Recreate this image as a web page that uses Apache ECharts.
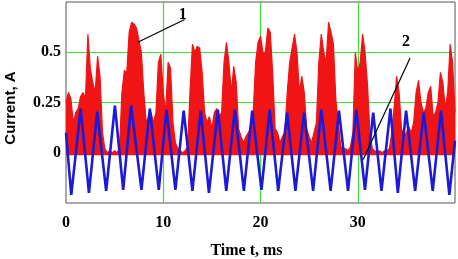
<!DOCTYPE html>
<html>
<head>
<meta charset="utf-8">
<script src="https://cdn.jsdelivr.net/npm/echarts@6/dist/echarts.min.js"></script>
<style>
html, body { margin: 0; padding: 0; background: #fff; }
#chart-box { width: 458px; height: 259px; }
</style>
</head>
<body>
<div id="chart-box"></div>
<script>
// curve 1 (red): upper edge of the current trace, one reading every 0.25 ms from 0 to 40 ms
let redStep = 0.25
let redValues = [
	0.25, 0.30, 0.27, 0.15, 0.20, 0.22, 0.28, 0.30, 0.27, 0.59,
	0.42, 0.35, 0.30, 0.48, 0.38, 0.10, 0.02, 0.00, 0.01, 0.00,
	0.01, 0.00, 0.02, 0.30, 0.41, 0.40, 0.60, 0.65, 0.64, 0.62,
	0.56, 0.50, 0.30, 0.15, 0.18, 0.20, 0.15, 0.20, 0.45, 0.49,
	0.30, 0.20, 0.45, 0.42, 0.15, 0.05, 0.02, 0.01, 0.00, 0.01,
	0.03, 0.30, 0.54, 0.50, 0.53, 0.52, 0.40, 0.20, 0.15, 0.18,
	0.12, 0.20, 0.22, 0.18, 0.20, 0.45, 0.55, 0.45, 0.30, 0.43,
	0.35, 0.12, 0.08, 0.05, 0.08, 0.10, 0.12, 0.20, 0.45, 0.55,
	0.58, 0.50, 0.50, 0.62, 0.60, 0.40, 0.12, 0.10, 0.05, 0.08,
	0.10, 0.30, 0.45, 0.52, 0.59, 0.50, 0.30, 0.38, 0.30, 0.12,
	0.08, 0.05, 0.10, 0.15, 0.45, 0.59, 0.50, 0.45, 0.65, 0.60,
	0.54, 0.26, 0.15, 0.03, 0.02, 0.02, 0.01, 0.03, 0.10, 0.50,
	0.40, 0.45, 0.59, 0.50, 0.34, 0.10, 0.02, 0.01, 0.00, 0.01,
	0.00, 0.01, 0.01, 0.02, 0.10, 0.23, 0.38, 0.30, 0.12, 0.08,
	0.10, 0.13, 0.10, 0.15, 0.30, 0.36, 0.25, 0.20, 0.22, 0.30,
	0.33, 0.18, 0.20, 0.25, 0.40, 0.35, 0.22, 0.30, 0.54, 0.45,
	0.20
]

// curve 2 (blue): turning points of the supply wave
let blueTimes = [
	0, 0.54, 1.51, 2.36, 3.21, 4.13, 5.03, 5.88, 6.70, 7.76,
	8.62, 9.54, 10.33, 11.25, 12.10, 13.0, 13.85, 14.70, 15.62, 16.48,
	17.36, 18.29, 19.15, 20.10, 20.95, 21.82, 22.74, 23.59, 24.48, 25.41,
	26.26, 27.21, 28.07, 29.0, 29.85, 30.74, 31.59, 32.44, 33.36, 34.12,
	34.97, 35.90, 36.79, 37.71, 38.56, 39.42, 40
]
let blueValues = [
	0.10, -0.21, 0.22, -0.20, 0.205, -0.19, 0.235, -0.185, 0.235, -0.185,
	0.22, -0.185, 0.215, -0.185, 0.21, -0.19, 0.21, -0.20, 0.215, -0.19,
	0.215, -0.19, 0.21, -0.185, 0.215, -0.19, 0.20, -0.19, 0.20, -0.19,
	0.215, -0.19, 0.21, -0.19, 0.215, -0.185, 0.20, -0.19, 0.22, -0.20,
	0.21, -0.19, 0.20, -0.19, 0.21, -0.21, 0.06
]

let xTickLabels = [0, 10, 20, 30]
let yTickLabels = [0, 0.25, 0.5]

let chartBox = document.getElementById("chart-box")
let chart = echarts.init(chartBox)

let redData = []
for (let i = 0; i < redValues.length; i++) {
	redData.push([i * redStep, redValues[i]])
}
let blueData = []
for (let i = 0; i < blueTimes.length; i++) {
	blueData.push([blueTimes[i], blueValues[i]])
}

let boldSerif = {
	fontFamily: "Liberation Serif",
	fontWeight: "bold",
	fontSize: 16,
	color: "#000"
}

let option = {
	animation: false,
	grid: {
		left: 66,
		right: 3,
		top: 2,
		bottom: 56,
		outerBoundsMode: "none",
		containLabel: false,
		show: true,
		borderColor: "#555",
		borderWidth: 1
	},
	xAxis: {
		type: "value",
		min: 0,
		max: 40,
		interval: 10,
		name: "Time t, ms",
		nameLocation: "middle",
		nameGap: 40,
		nameTextStyle: Object.assign({}, boldSerif, { padding: [0, 28, 0, 0] }),
		axisLine: { show: false },
		axisTick: { show: false },
		axisLabel: Object.assign({}, boldSerif, {
			margin: 12,
			formatter: function (v) {
				return xTickLabels.indexOf(v) >= 0 ? String(v) : ""
			}
		}),
		splitLine: {
			show: true,
			showMinLine: false,
			showMaxLine: false,
			lineStyle: { color: "#3be03b", width: 1.2 }
		}
	},
	yAxis: {
		type: "value",
		min: -0.25,
		max: 0.75,
		interval: 0.25,
		name: "Current, A",
		nameLocation: "middle",
		nameGap: 48,
		nameTextStyle: {
			fontFamily: "Liberation Sans",
			fontWeight: "bold",
			fontSize: 15,
			color: "#000",
			padding: [0, 11, 0, 0]
		},
		axisLine: { show: false },
		axisTick: { show: false },
		axisLabel: Object.assign({}, boldSerif, {
			margin: 5,
			formatter: function (v) {
				let r = Math.round(v * 100) / 100
				return yTickLabels.indexOf(r) >= 0 ? String(r) : ""
			}
		}),
		splitLine: {
			show: true,
			showMinLine: false,
			showMaxLine: false,
			lineStyle: { color: ["#c6d8cc", "#3be03b", "#3be03b"], width: 1.2 }
		}
	},
	series: [
		{
			name: "1",
			type: "line",
			data: redData,
			showSymbol: false,
			z: 2,
			lineStyle: { color: "#f01414", width: 1.2 },
			itemStyle: { color: "#f01414" },
			areaStyle: { color: "#f01414", opacity: 1, origin: -0.012 }
		},
		{
			name: "2",
			type: "line",
			data: blueData,
			showSymbol: false,
			z: 3,
			lineStyle: { color: "#1a1ad8", width: 2.6 },
			itemStyle: { color: "#1a1ad8" }
		},
		{
			name: "notes",
			type: "line",
			data: [],
			z: 4,
			markLine: {
				silent: true,
				symbol: "none",
				label: { show: false },
				lineStyle: { color: "#000", width: 1.2, type: "solid" },
				data: [
					[{ coord: [7.38, 0.55] }, { coord: [12.2, 0.663] }],
					[{ coord: [35.38, 0.472] }, { coord: [30.56, -0.033] }]
				]
			},
			markPoint: {
				silent: true,
				symbol: "circle",
				symbolSize: 1,
				itemStyle: { color: "transparent" },
				label: Object.assign({}, boldSerif, {
					show: true,
					position: "inside",
					formatter: function (p) { return p.name }
				}),
				data: [
					{ name: "1", coord: [12.0, 0.688] },
					{ name: "2", coord: [34.97, 0.55] }
				]
			}
		}
	]
}
chart.setOption(option)
</script>
</body>
</html>
